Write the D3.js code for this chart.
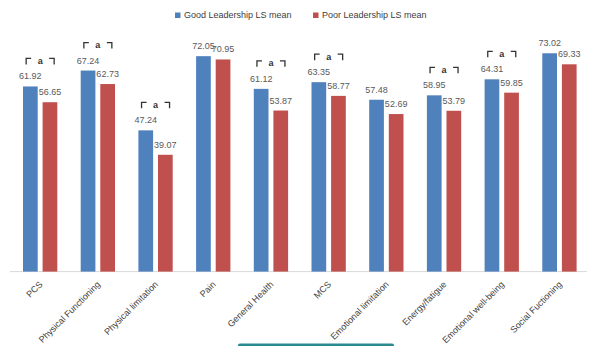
<!DOCTYPE html>
<html><head><meta charset="utf-8">
<script src="https://cdn.jsdelivr.net/npm/d3@7"></script>
<style>html,body{margin:0;padding:0;background:#fff;}svg{display:block;font-family:"Liberation Sans",Arial,sans-serif;}</style>
</head><body>
<script>
const categories = ["PCS","Physical Functioning","Physical limitation","Pain","General Health","MCS","Emotional limitation","Energy/fatigue","Emotional well-being","Social Fuctioning"];
const seriesNames = ["Good Leadership LS mean","Poor Leadership LS mean"];
const goodValues = [61.92,67.24,47.24,72.05,61.12,63.35,57.48,58.95,64.31,73.02];
const poorValues = [56.65,62.73,39.07,70.95,53.87,58.77,52.69,53.79,59.85,69.33];
const significant = [true,true,true,false,true,true,false,true,true,false];
const colors = ["#4F81BD","#C0504D"];

const W=605,H=346;
const svg=d3.select("body").append("svg").attr("width",W).attr("height",H);

const x0=d3.scaleBand().domain(categories).range([10,587]);
const x1=d3.scaleBand().domain(seriesNames).range([13,47.3]).paddingInner(0.25);
const y=d3.scaleLinear().domain([0,90]).range([271.6,2.5]);

const rows=categories.map((c,i)=>({cat:c,vals:[goodValues[i],poorValues[i]],sig:significant[i]}));

svg.append("line").attr("x1",10).attr("x2",587).attr("y1",y(0)).attr("y2",y(0))
  .attr("stroke","#d9d9d9").attr("stroke-width",1);

const g=svg.selectAll("g.cat").data(rows).enter().append("g").attr("class","cat")
  .attr("transform",d=>`translate(${x0(d.cat)},0)`);

g.selectAll("rect").data(d=>d.vals.map((v,j)=>({v,s:seriesNames[j],j}))).enter().append("rect")
  .attr("x",d=>x1(d.s)).attr("width",x1.bandwidth())
  .attr("y",d=>y(d.v)).attr("height",d=>y(0)-y(d.v))
  .attr("fill",d=>colors[d.j]);

g.selectAll("text.val").data(d=>d.vals.map((v,j)=>({v,s:seriesNames[j],j}))).enter().append("text")
  .attr("class","val")
  .attr("x",d=>x1(d.s)+x1.bandwidth()/2).attr("y",d=>y(d.v)-7)
  .attr("text-anchor","middle").attr("font-size",9).attr("fill","#595959")
  .text(d=>d.v.toFixed(2));

const sg=g.filter(d=>d.sig).append("g").attr("transform",d=>{
  const cx=(x1(seriesNames[0])+x1(seriesNames[1])+x1.bandwidth())/2;
  const top=y(d3.max(d.vals))-28;
  return `translate(${cx},${top})`;
});
sg.append("path").attr("d","M-14,6V0H-9").attr("fill","none").attr("stroke","#333").attr("stroke-width",1.3);
sg.append("path").attr("d","M9,0H14V6").attr("fill","none").attr("stroke","#333").attr("stroke-width",1.3);
sg.append("text").attr("x",0).attr("y",5.5).attr("text-anchor","middle").attr("font-size",9)
  .attr("font-weight","bold").attr("fill","#333").text("a");

svg.selectAll("text.cat").data(categories).enter().append("text").attr("class","cat")
  .attr("transform",d=>`translate(${x0(d)+x1.range()[0]+(x1.range()[1]-x1.range()[0])/2+3},285) rotate(-45)`)
  .attr("text-anchor","end").attr("font-size",9).attr("fill","#404040").text(d=>d);

const lx=[175,313];
const lg=svg.selectAll("g.leg").data(seriesNames).enter().append("g").attr("class","leg")
  .attr("transform",(d,i)=>`translate(${lx[i]},0)`);
lg.append("rect").attr("x",0).attr("y",12.5).attr("width",5.5).attr("height",5.5).attr("fill",(d,i)=>colors[i]);
lg.append("text").attr("x",9).attr("y",18).attr("font-size",9).attr("fill","#404040").text(d=>d);

svg.append("rect").attr("x",238).attr("y",343.5).attr("width",156).attr("height",6).attr("rx",2).attr("fill","#2b8a8e");
</script>
</body></html>
